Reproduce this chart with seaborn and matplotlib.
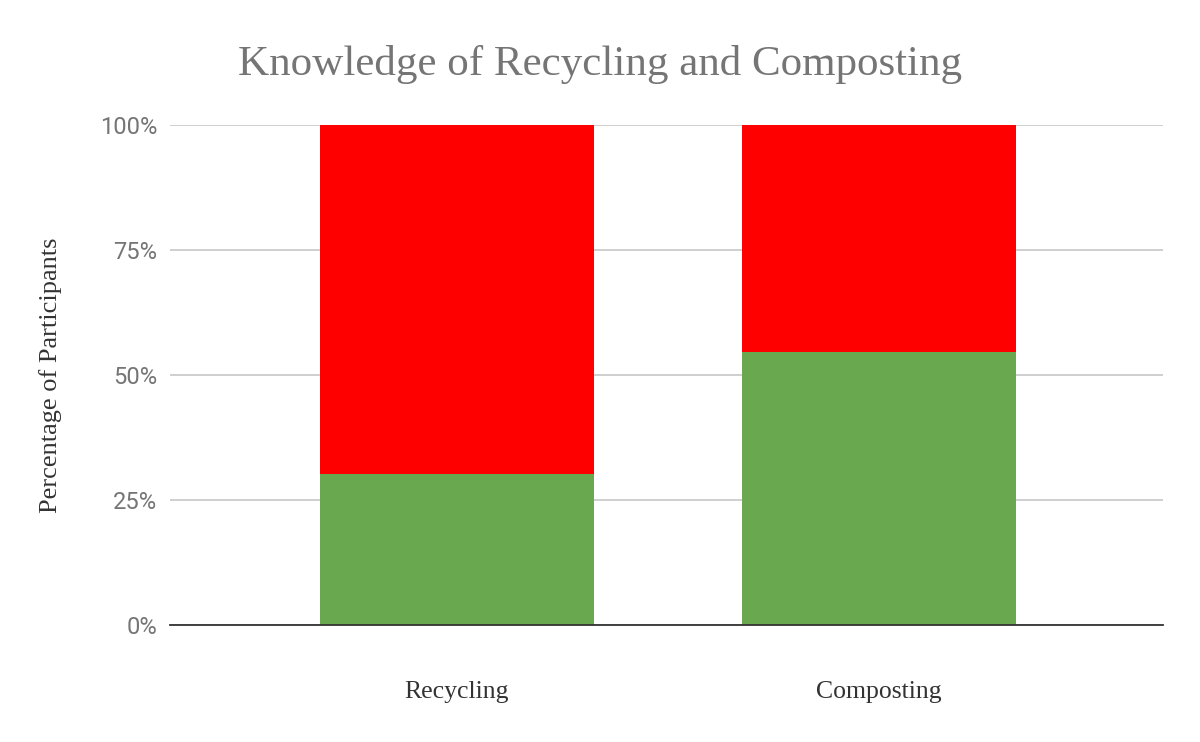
import pandas as pd
import matplotlib.pyplot as plt
import seaborn as sns
from matplotlib.ticker import PercentFormatter

categories = ["Recycling", "Composting"]
knows = [30.3, 54.7]
does_not_know = [69.7, 45.3]
y_ticks = [0, 25, 50, 75, 100]

df = pd.DataFrame({"Category": categories, "Knows": knows, "NotKnows": does_not_know})
df["Total"] = df["Knows"] + df["NotKnows"]

sns.set_style("white")
plt.rcParams['font.family'] = ['Roboto', 'DejaVu Sans']

fig = plt.figure(figsize=(12, 7.42), dpi=100)
ax = fig.add_axes([170 / 1200, 1 - 625 / 742, (1163 - 170) / 1200, 500 / 742])

# red on full height, green over it
sns.barplot(data=df, x="Category", y="Total", color="#ff0000", width=0.65,
            saturation=1, linewidth=0, ax=ax, zorder=2)
sns.barplot(data=df, x="Category", y="Knows", color="#6aa84f", width=0.65,
            saturation=1, linewidth=0, ax=ax, zorder=3)

ax.set_ylim(0, 100)
ax.set_xlim(-0.68, 1.673)
ax.set_yticks(y_ticks)
ax.yaxis.set_major_formatter(PercentFormatter(decimals=0))
ax.grid(axis="y", color="#cccccc", linewidth=1.3, zorder=0)
ax.set_axisbelow(True)
for s in ["top", "right", "left"]:
    ax.spines[s].set_visible(False)
ax.spines["bottom"].set_color("#333333")
ax.spines["bottom"].set_linewidth(1.3)
ax.spines["bottom"].set_zorder(5)

ax.tick_params(axis="y", length=0, pad=9, labelsize=17, labelcolor="#757575")
ax.tick_params(axis="x", length=0, pad=40, labelsize=18.5, labelcolor="#333333")
for lab in ax.get_xticklabels():
    lab.set_family("Liberation Serif")

ax.set_xlabel("")
ax.set_ylabel("Percentage of Participants", family="Liberation Serif",
              fontsize=19, color="#333333")
ax.yaxis.set_label_coords((62 - 170) / 993, 0.5)

fig.suptitle("Knowledge of Recycling and Composting", family="Liberation Serif",
             fontsize=31, color="#757575", x=0.5, y=0.94)

fig.savefig("out.png", dpi=100, facecolor="white")
